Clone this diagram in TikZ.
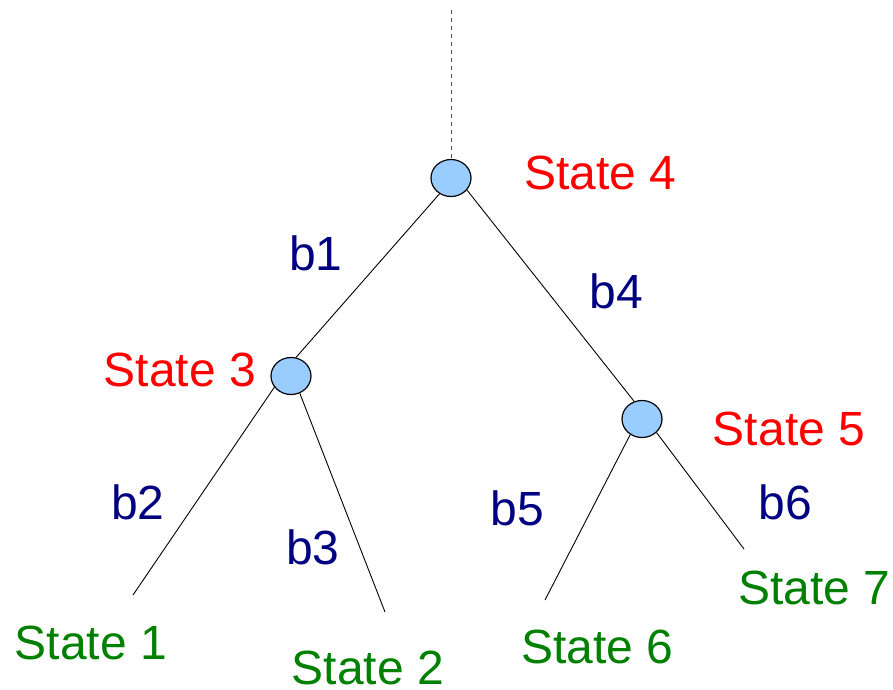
\documentclass[tikz,border=0pt]{standalone}
\usepackage{fontspec}
\setmainfont{Liberation Sans}
\usetikzlibrary{shapes.geometric}
\definecolor{nodefill}{HTML}{99CCFF}
\definecolor{statered}{HTML}{FF0000}
\definecolor{stategreen}{HTML}{008000}
\definecolor{branchblue}{HTML}{000080}
\tikzset{
  treenode/.style={ellipse, draw=black, line width=1.2pt, fill=nodefill, minimum width=40pt, minimum height=37pt, inner sep=0pt},
  edge/.style={draw=black, line width=0.9pt},
  lbl/.style={anchor=base, inner sep=0pt, font=\fontsize{48}{56}\selectfont},
  inner/.style={lbl, text=statered},
  leaf/.style={lbl, text=stategreen},
  branch/.style={lbl, text=branchblue},
  rootdash/.style={draw=black!70, line width=0.8pt, dash pattern=on 4pt off 4pt}
}
\begin{document}
\begin{tikzpicture}[x=1pt,y=-1pt]
\useasboundingbox (0,0) rectangle (893,689);
% nodes
\node[treenode] (n4) at (451,178) {};
\node[treenode] (n3) at (291,376) {};
\node[treenode] (n5) at (642,419) {};
\coordinate (top) at (451,10);
\coordinate (l1) at (133,595);
\coordinate (l2) at (385,612);
\coordinate (l6) at (545,600);
\coordinate (l7) at (744,549);
% connectors
\draw[rootdash] (top) -- (n4.north);
\draw[edge] (n4.234) -- (n3.75);
\draw[edge] (n4.323) -- (n5.114);
\draw[edge] (n3.214) -- (l1);
\draw[edge] (n3.297) -- (l2);
\draw[edge] (n5.233) -- (l6);
\draw[edge] (n5.317) -- (l7);
% labels
\node[inner] (s4) at (600.5,189) {State 4};
\node[inner] (s3) at (180,386) {State 3};
\node[inner] (s5) at (789,445) {State 5};
\node[leaf] (s1) at (91,659) {State 1};
\node[leaf] (s2) at (368,684) {State 2};
\node[leaf] (s6) at (597.5,663) {State 6};
\node[leaf] (s7) at (814.5,604) {State 7};
\node[branch] (b1) at (316,270) {b1};
\node[branch] (b4) at (616,308) {b4};
\node[branch] (b2) at (138,519) {b2};
\node[branch] (b3) at (313,564) {b3};
\node[branch] (b5) at (517,525) {b5};
\node[branch] (b6) at (785,519) {b6};
\end{tikzpicture}
\end{document}
